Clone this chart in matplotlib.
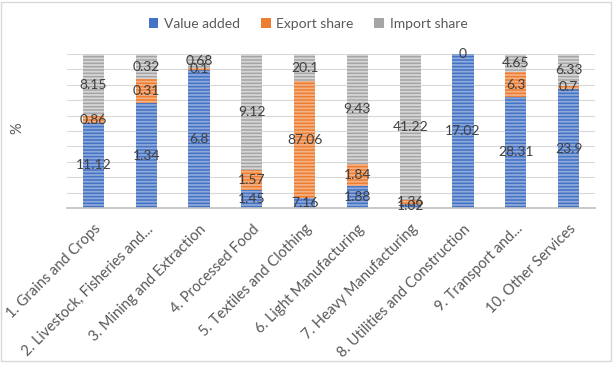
import matplotlib
matplotlib.use("Agg")
import matplotlib.pyplot as plt
from matplotlib.patches import Patch, Rectangle
import numpy as np

categories = ["1. Grains and Crops", "2. Livestock, Fisheries and...", "3. Mining and Extraction",
              "4. Processed Food", "5. Textiles and Clothing", "6. Light Manufacturing",
              "7. Heavy Manufacturing", "8. Utilities and Construction", "9. Transport and...",
              "10. Other Services"]
value_added = [11.12, 1.34, 6.8, 1.45, 7.16, 1.88, 1.02, 17.02, 28.31, 23.9]
export_share = [0.86, 0.31, 0.1, 1.57, 87.06, 1.84, 1.36, 0.0, 6.3, 0.7]
import_share = [8.15, 0.32, 0.68, 9.12, 20.1, 9.43, 41.22, 0.0, 4.65, 6.33]
export_labels = ["0.86", "0.31", "0.1", "1.57", "87.06", "1.84", "1.36", "", "6.3", "0.7"]

plt.rcParams['font.family'] = ['Lato', 'DejaVu Sans']
plt.rcParams['hatch.linewidth'] = 1.3

fig = plt.figure(figsize=(6.16, 3.66), dpi=100)
ax = fig.add_axes([67/616, 1-208/366, (595-67)/616, (208-54)/366])

va = np.array(value_added); ex = np.array(export_share); im = np.array(import_share)
tot = va + ex + im
pva = va / tot * 100; pex = ex / tot * 100; pim = im / tot * 100
x = np.arange(len(categories))
w = 0.4

series = [
    ("Value added", pva, np.zeros_like(pva), "#4472C4", "#8EA9DB", [f"{v:g}" for v in value_added]),
    ("Export share", pex, pva, "#ED7D31", "#F4B183", export_labels),
    ("Import share", pim, pva + pex, "#A5A5A5", "#D6D6D6", [f"{v:g}" for v in import_share]),
]
for name, vals, bottom, fc, hc, labs in series:
    bars = ax.bar(x, vals, w, bottom=bottom, color=fc, edgecolor=hc, hatch='-----',
                  linewidth=0, zorder=2)
    ax.bar_label(bars, labels=labs, label_type='center', fontsize=10, color='#404040', zorder=3)

ax.set_xlim(-0.5, len(categories) - 0.5)
ax.set_ylim(0, 100)
ax.set_yticks(np.arange(0, 101, 10))
ax.set_yticklabels([])
ax.tick_params(axis='y', length=0)
ax.grid(axis='y', color='#D9D9D9', linewidth=0.8, zorder=0)
ax.set_axisbelow(True)
for s in ['top', 'right', 'left']:
    ax.spines[s].set_visible(False)
ax.spines['bottom'].set_color('#BFBFBF')
ax.spines['bottom'].set_linewidth(1.2)
ax.set_xticks(x)
ax.set_xticklabels(categories, rotation=45, ha='right', rotation_mode='anchor',
                   fontsize=10.5, color='#595959')
ax.tick_params(axis='x', length=0, pad=10)
fig.text(17/616, 1-128/366, "%", rotation=90, fontsize=10.5, color='#595959', ha='center', va='center')

handles = [Patch(facecolor=c, edgecolor='none') for c in ["#4472C4", "#ED7D31", "#A5A5A5"]]
fig.legend(handles, ["Value added", "Export share", "Import share"], loc='center',
           bbox_to_anchor=(0.5, 1-24/366), ncol=3, frameon=False, fontsize=10,
           labelcolor='#595959', handlelength=0.7, handleheight=0.7, columnspacing=1.5,
           handletextpad=0.4)

fig.patches.append(Rectangle((0.002, 0.015), 0.99, 0.98, transform=fig.transFigure,
                             fill=False, edgecolor='#D9D9D9', linewidth=1))
fig.savefig("out.png", dpi=100)
